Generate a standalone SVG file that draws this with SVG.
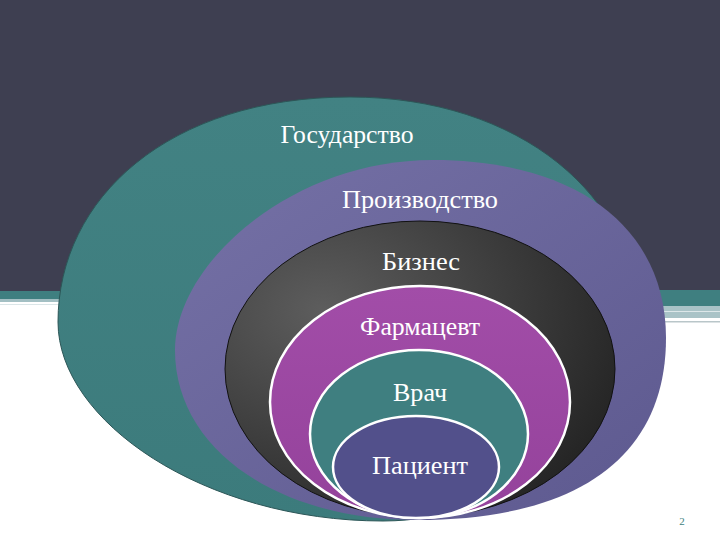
<svg xmlns="http://www.w3.org/2000/svg" width="720" height="540" viewBox="0 0 720 540">
<defs>
<style>
.lbl{font-family:"Liberation Serif","Times New Roman",serif;font-size:25px;fill:#ffffff;text-anchor:middle}
.wb{stroke:#ffffff;stroke-width:2.5}
</style>
<linearGradient id="gTeal" x1="0" y1="0" x2="0" y2="1">
<stop offset="0" stop-color="#428283"/>
<stop offset="1" stop-color="#3c7b7c"/>
</linearGradient>
<linearGradient id="gPurple" x1="0" y1="0" x2="1" y2="1">
<stop offset="0" stop-color="#7571a6"/>
<stop offset="1" stop-color="#5d598f"/>
</linearGradient>
<radialGradient id="gDark" cx="0.25" cy="0.3" r="0.85">
<stop offset="0" stop-color="#5d5d5d"/>
<stop offset="1" stop-color="#232323"/>
</radialGradient>
<linearGradient id="gMag" x1="0" y1="0" x2="0" y2="1">
<stop offset="0" stop-color="#a24da8"/>
<stop offset="1" stop-color="#94429b"/>
</linearGradient>
</defs>
<g id="background">
<rect x="0" y="0" width="720" height="540" fill="#ffffff"/>
<rect x="0" y="0" width="720" height="291" fill="#3e3f51"/>
<rect x="0" y="291" width="360" height="8" fill="#3f7f80"/>
<rect x="0" y="299" width="360" height="3" fill="#a3bfc3"/>
<rect x="0" y="304" width="360" height="1" fill="#dbe6e8"/>
<rect x="360" y="290" width="360" height="16" fill="#3f7f80"/>
<rect x="360" y="306" width="360" height="12" fill="#a9c3c7"/>
<rect x="360" y="311" width="360" height="1" fill="#dce7e9"/>
<rect x="360" y="321" width="360" height="1.5" fill="#b9c6c9"/>
</g>
<g id="node-gosudarstvo">
<path d="M58,322 C58,198 169,97 350,97 C518,97 640,195 640,330 C640,425 511,521 383,521 C204,521 58,421 58,322 Z" fill="url(#gTeal)" stroke="#2c5657" stroke-width="1"/>
<text class="lbl" x="347" y="143" textLength="133" lengthAdjust="spacingAndGlyphs">Государство</text>
</g>
<g id="node-proizvodstvo">
<path d="M433,160 C577,160 666,228 666,338 C666,456 579,520 417,520 C277,520 175,449 175,350 C175,264 291,160 433,160 Z" fill="url(#gPurple)"/>
<text class="lbl" x="420" y="208" textLength="156" lengthAdjust="spacingAndGlyphs">Производство</text>
</g>
<g id="node-biznes">
<ellipse cx="420" cy="369" rx="195" ry="148" fill="url(#gDark)" stroke="#111111" stroke-width="1"/>
<text class="lbl" x="421" y="270" textLength="78" lengthAdjust="spacingAndGlyphs">Бизнес</text>
</g>
<g id="node-farmacevt">
<ellipse cx="420" cy="402" rx="150" ry="116" fill="url(#gMag)" class="wb"/>
<text class="lbl" x="420" y="335" textLength="120" lengthAdjust="spacingAndGlyphs">Фармацевт</text>
</g>
<g id="node-vrach">
<ellipse cx="419" cy="434" rx="109" ry="84" fill="#3f7f80" class="wb"/>
<text class="lbl" x="420" y="401" textLength="54" lengthAdjust="spacingAndGlyphs">Врач</text>
</g>
<g id="node-pacient">
<ellipse cx="416" cy="467" rx="83" ry="51" fill="#52508b" class="wb"/>
<text class="lbl" x="420" y="474" textLength="96" lengthAdjust="spacingAndGlyphs">Пациент</text>
</g>
<text x="682" y="525" font-family="Liberation Serif, serif" font-size="11" fill="#3f7f80" text-anchor="middle">2</text>
</svg>
